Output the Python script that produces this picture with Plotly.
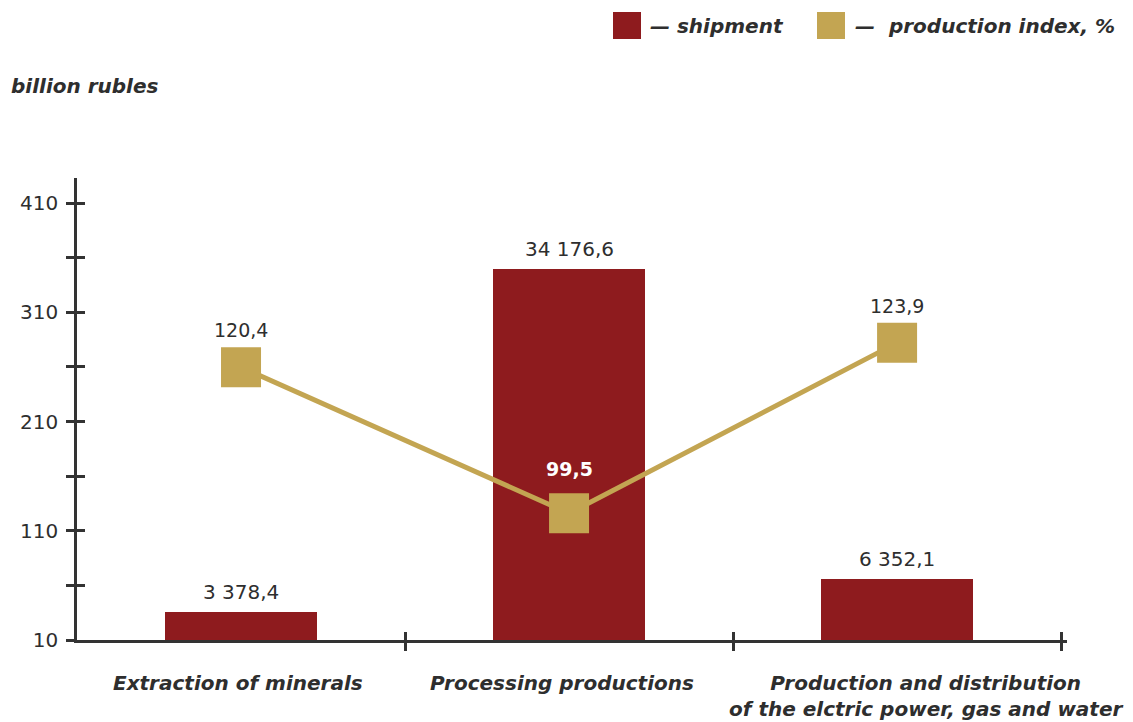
import plotly.graph_objects as go

# ---------------- data ----------------
categories = [
    "Extraction of minerals",
    "Processing productions",
    "Production and distribution<br>of the elctric power, gas and water",
]
shipment = [3378.4, 34176.6, 6352.1]          # billion rubles
production_index = [120.4, 99.5, 123.9]       # %
y_tick_values = [10, 60, 110, 160, 210, 260, 310, 360, 410]
y_tick_labels = ["10", "", "110", "", "210", "", "310", "", "410"]
legend_labels = ["\u2014 shipment", "\u2014  production index, %"]
unit_label = "billion rubles"

# ---------------- style ----------------
RED = "#8E1B1E"
GOLD = "#C3A552"
AXIS = "#333333"
TXT = "#2E2E2E"
FONT = "DejaVu Sans"

OFF = 8                      # page body margin of the browser
W, H = 1133 - OFF, 722 - OFF
PLOT_L, PLOT_R, PLOT_T, PLOT_B = 77, 1067, 178, 640   # in screenshot pixels
L = PLOT_L - OFF
T = PLOT_T - OFF
R = W + OFF - PLOT_R
B = H + OFF - PLOT_B
PW, PH = PLOT_R - PLOT_L, PLOT_B - PLOT_T


def px_x(px):
    return (px - PLOT_L) / PW


def px_y(py):
    return (PLOT_B - py) / PH


def fmt(v):
    return f"{v:,.1f}".replace(",", " ").replace(".", ",")


xs = list(range(len(categories)))
bounds = [i + 0.5 for i in xs]

fig = go.Figure()

# invisible anchors so every axis is drawn
fig.add_trace(go.Scatter(x=[0], y=[10], mode="markers", marker=dict(opacity=0),
                         hoverinfo="skip", showlegend=False))
fig.add_trace(go.Scatter(x=[0], y=[10], yaxis="y4", mode="markers", marker=dict(opacity=0),
                         hoverinfo="skip", showlegend=False))
fig.add_trace(go.Scatter(x=[0], y=[10], xaxis="x2", mode="markers", marker=dict(opacity=0),
                         hoverinfo="skip", showlegend=False))

fig.add_trace(go.Bar(
    x=xs, y=shipment, yaxis="y2", width=0.463,
    marker=dict(color=RED, line=dict(width=0)),
    showlegend=False, hoverinfo="skip",
))

fig.add_trace(go.Scatter(
    x=xs, y=production_index, yaxis="y3", mode="lines+markers",
    line=dict(color=GOLD, width=5),
    marker=dict(symbol="square", size=40, color=GOLD),
    showlegend=False, hoverinfo="skip",
))

annotations = []
# shipment value labels
for x, v in zip(xs, shipment):
    annotations.append(dict(
        x=x, y=v, xref="x", yref="y2", text=fmt(v), showarrow=False,
        yanchor="middle", yshift=20,
        font=dict(family=FONT, size=20, color=TXT),
    ))
# production index labels
idx_shift = [37, 44, 37]
idx_color = [TXT, "#FFFFFF", TXT]
idx_weight = ["normal", "bold", "normal"]
for x, v, s, c, w in zip(xs, production_index, idx_shift, idx_color, idx_weight):
    annotations.append(dict(
        x=x, y=v, xref="x", yref="y3", text=fmt(v), showarrow=False,
        yanchor="middle", yshift=s,
        font=dict(family=FONT, size=19, color=c, weight=w),
    ))
# category labels
cat_shift = [-3, -7, 29]
for x, c, s in zip(xs, categories, cat_shift):
    annotations.append(dict(
        x=x, y=0, xref="x", yref="paper", text=c, showarrow=False,
        yanchor="top", yshift=-29, xshift=s, align="center",
        font=dict(family=FONT, size=20, color=TXT, weight="bold", style="italic"),
    ))
# unit label
annotations.append(dict(
    x=px_x(9), y=px_y(86), xref="paper", yref="paper", text=unit_label,
    showarrow=False, xanchor="left", yanchor="middle",
    font=dict(family=FONT, size=20, color=TXT, weight="bold", style="italic"),
))
# legend texts
for tx, lab in zip([648, 853], legend_labels):
    annotations.append(dict(
        x=px_x(tx), y=px_y(26), xref="paper", yref="paper", text=lab,
        showarrow=False, xanchor="left", yanchor="middle",
        font=dict(family=FONT, size=20, color=TXT, weight="bold", style="italic"),
    ))

shapes = []
for (x0, x1), col in zip([(613, 641), (817, 845)], [RED, GOLD]):
    shapes.append(dict(
        type="rect", xref="paper", yref="paper",
        x0=px_x(x0), x1=px_x(x1), y0=px_y(39), y1=px_y(12),
        fillcolor=col, line=dict(width=0),
    ))

xr = [-0.5, 2.518]
tickstyle = dict(ticklen=8, tickwidth=2.5, tickcolor=AXIS)

fig.update_layout(
    width=W, height=H,
    margin=dict(l=L, r=R, t=T, b=B),
    paper_bgcolor="white", plot_bgcolor="white",
    showlegend=False,
    bargap=0,
    font=dict(family=FONT, color=TXT),
    xaxis=dict(
        range=xr, tickvals=bounds, ticktext=["" for _ in bounds],
        ticks="outside", **tickstyle,
        showline=True, linewidth=2.5, linecolor=AXIS,
        showgrid=False, zeroline=False, fixedrange=True,
    ),
    xaxis2=dict(
        overlaying="x", anchor="y", side="bottom", range=xr,
        tickvals=bounds, ticktext=["" for _ in bounds],
        ticks="inside", **tickstyle,
        showline=False, showgrid=False, zeroline=False, showticklabels=False,
    ),
    yaxis=dict(
        range=[10, 433], tickvals=y_tick_values, ticktext=y_tick_labels,
        ticks="outside", **tickstyle, ticklabelstandoff=4,
        tickfont=dict(family=FONT, size=20, color=TXT),
        showline=True, linewidth=2.5, linecolor=AXIS,
        showgrid=False, zeroline=False,
    ),
    yaxis4=dict(
        overlaying="y", anchor="x", side="left", range=[10, 433],
        tickvals=y_tick_values, ticks="inside", **tickstyle,
        showticklabels=False, showline=False, showgrid=False, zeroline=False,
    ),
    yaxis2=dict(overlaying="y", anchor="x", range=[833, 42387], visible=False),
    yaxis3=dict(overlaying="y", anchor="x", range=[81.36, 147.5], visible=False),
    annotations=annotations,
    shapes=shapes,
)

fig.write_html("out.html")
